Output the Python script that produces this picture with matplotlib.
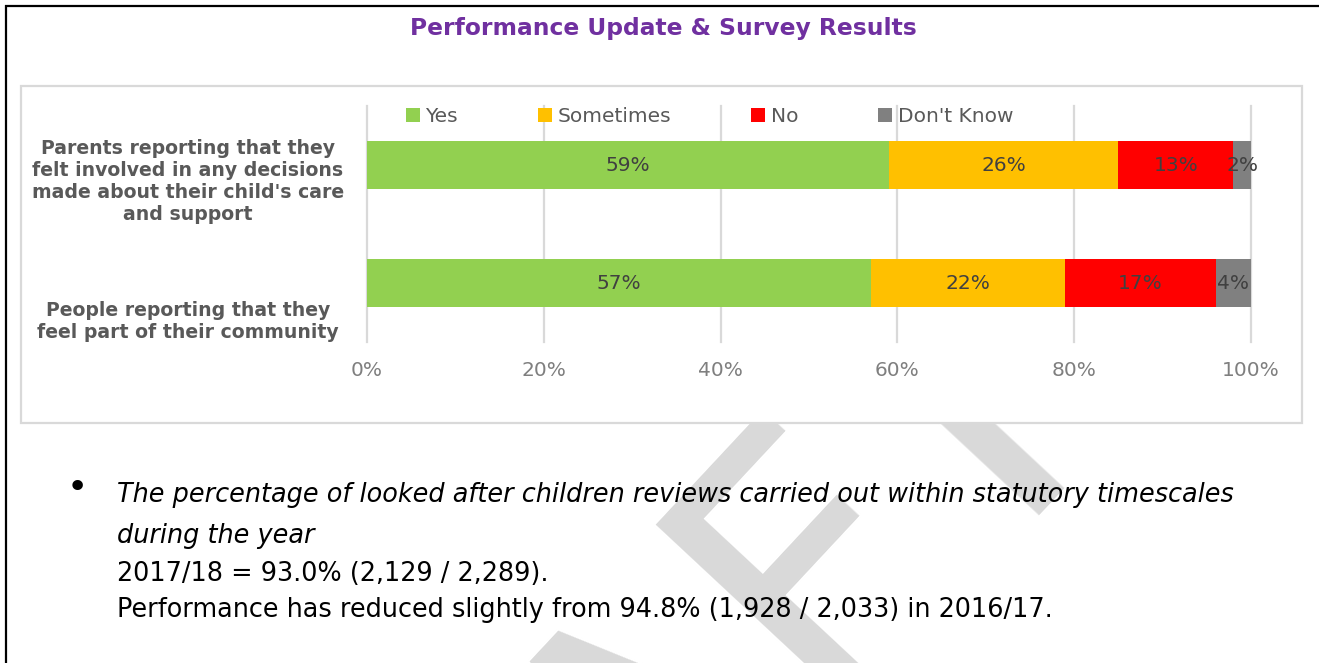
import textwrap
import numpy as np
import matplotlib
matplotlib.use("Agg")
import matplotlib.pyplot as plt
from matplotlib.patches import Rectangle
from matplotlib.lines import Line2D

# ---------------- data ----------------
title = "Performance Update & Survey Results"
categories = [
    "Parents reporting that they felt involved in any decisions made about their child's care and support",
    "People reporting that they feel part of their community",
]
series_names = ["Yes", "Sometimes", "No", "Don't Know"]
yes = [59, 57]
sometimes = [26, 22]
no = [13, 17]
dont_know = [2, 4]
x_ticks = [0, 20, 40, 60, 80, 100]
x_tick_labels = ["0%", "20%", "40%", "60%", "80%", "100%"]
series_colors = ["#92d050", "#ffc000", "#ff0000", "#808080"]
body_italic = [
    "The percentage of looked after children reviews carried out within statutory timescales",
    "during the year",
]
body_regular = [
    "2017/18 = 93.0% (2,129 / 2,289).",
    "Performance has reduced slightly from 94.8% (1,928 / 2,033) in 2016/17.",
]
watermark = "DRAFT"

# ---------------- layout ----------------
W, H, DPI = 1319, 663, 100
plt.rcParams["font.family"] = ["DejaVu Sans"]

fig = plt.figure(figsize=(W / DPI, H / DPI), dpi=DPI)
fig.patch.set_facecolor("white")
renderer = fig.canvas.get_renderer()


def fig_rect(l, t, r, b):
    return [l / W, 1 - b / H, (r - l) / W, (b - t) / H]


def fit(txt, target_w):
    w = txt.get_window_extent(renderer).width
    txt.set_fontsize(txt.get_fontsize() * target_w / w)
    return txt.get_fontsize()


bg = fig.add_axes([0, 0, 1, 1])
bg.set_xlim(0, W)
bg.set_ylim(H, 0)
bg.axis("off")

# watermark (behind the chart box and the text)
bg.text(700, 840, watermark, fontsize=270, color="#d9d9d9", rotation=47,
        rotation_mode="anchor", ha="center", va="baseline", zorder=0)

# chart box
bg.add_patch(Rectangle((21, 86), 1281, 337, facecolor="white",
                       edgecolor="#d9d9d9", lw=1.6, zorder=1))

# page borders
bg.plot([5.5, 5.5], [4.5, H], color="black", lw=1.6, zorder=6,
        solid_capstyle="butt")
bg.plot([4.5, W], [5.5, 5.5], color="black", lw=1.6, zorder=6,
        solid_capstyle="butt")

# title
t = bg.text(663, 28, title, fontweight="bold", color="#7030a0",
            ha="center", va="center", fontsize=16, zorder=5)
fit(t, 506)

# ---------------- chart ----------------
ax = fig.add_axes(fig_rect(367, 106, 1251, 342))
ax.set_zorder(2)
ax.patch.set_alpha(0)

ypos = np.arange(len(categories))
left = np.zeros(len(categories))
LABEL_FS = 14.5
for name, vals, col in zip(series_names, [yes, sometimes, no, dont_know], series_colors):
    vals = np.array(vals, dtype=float)
    cont = ax.barh(ypos, vals, left=left, height=0.4, color=col, zorder=3,
                   label=name)
    ax.bar_label(cont, labels=[f"{int(v)}%" for v in vals], label_type="center",
                 color="#404040", fontsize=LABEL_FS)
    left += vals

ax.set_xlim(0, 100)
ax.set_ylim(len(categories) - 0.5, -0.5)
ax.set_xticks(x_ticks)
ax.set_xticklabels(x_tick_labels)
ax.tick_params(axis="x", length=0, pad=14, labelsize=LABEL_FS,
               labelcolor="#7f7f7f")
ax.set_yticks([])
for s in ax.spines.values():
    s.set_visible(False)
ax.grid(axis="x", color="#d9d9d9", lw=1.6, zorder=0)
ax.set_axisbelow(True)
for gl in ax.get_xgridlines():
    gl.set_clip_on(False)

handles = [Line2D([], [], marker="s", linestyle="none", markersize=9.4,
                  markerfacecolor=c, markeredgewidth=0) for c in series_colors]
fig.legend(handles, series_names, loc="center left",
           bbox_to_anchor=(406 / W, 1 - 117 / H), ncol=4, frameon=False,
           borderpad=0, borderaxespad=0, handlelength=0.65,
           handletextpad=0.3, columnspacing=4.0, fontsize=LABEL_FS,
           labelcolor="#595959")

# category labels
label_centers_y = [181, 321]
cat_fs = None
for cat, cy in zip(categories, label_centers_y):
    txt = bg.text(188, cy, "\n".join(textwrap.wrap(cat, 30)), ha="center",
                  va="center", multialignment="center", fontweight="bold",
                  color="#595959", fontsize=12, linespacing=1.2, zorder=5)
    if cat_fs is None:
        cat_fs = fit(txt, 311)
    else:
        txt.set_fontsize(cat_fs)

# body text
bg.text(77, 488, "\u2022", fontsize=26, ha="center", va="center", zorder=5)
body_y_italic = [495, 536]
body_y_regular = [574, 610]
it_objs = [bg.text(117, y, s, style="italic", ha="left", va="center",
                   fontsize=14, zorder=5)
           for s, y in zip(body_italic, body_y_italic)]
fs_it = fit(it_objs[0], 1120)
for o in it_objs:
    o.set_fontsize(fs_it)
rg_objs = [bg.text(117, y, s, ha="left", va="center", fontsize=14, zorder=5)
           for s, y in zip(body_regular, body_y_regular)]
fs_rg = fit(rg_objs[1], 940)
for o in rg_objs:
    o.set_fontsize(fs_rg)

fig.savefig("out.png", dpi=DPI, facecolor="white")
